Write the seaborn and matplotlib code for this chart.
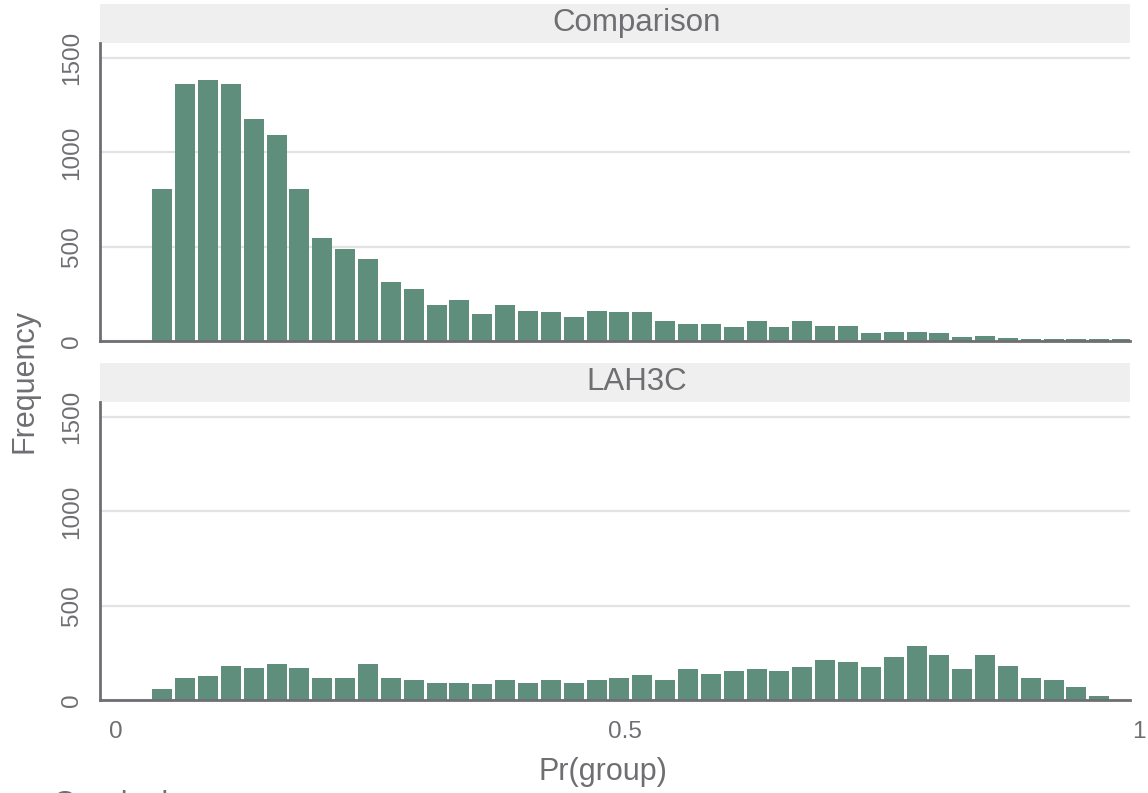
import numpy as np
import pandas as pd
import matplotlib.pyplot as plt
import seaborn as sns
from matplotlib.patches import Rectangle

# histogram counts (43 bins each)
groups = ["Comparison", "LAH3C"]
comparison_freq = [805, 1362, 1383, 1362, 1177, 1092, 806, 546, 488, 435,
                   313, 276, 191, 217, 143, 191, 159, 154, 127, 159,
                   154, 154, 106, 90, 90, 74, 106, 74, 106, 80,
                   80, 42, 48, 48, 42, 21, 26, 16, 11, 11,
                   11, 11, 11]
lah3c_freq = [58, 117, 127, 180, 170, 191, 170, 117, 117, 191,
              117, 106, 90, 90, 85, 106, 90, 106, 90, 106,
              117, 133, 106, 164, 138, 154, 164, 154, 175, 212,
              201, 175, 228, 286, 239, 164, 239, 180, 117, 106,
              69, 21, 0]
bin_start = 0.0346
bin_width = 0.02242
x_ticks = [0, 0.5, 1]
x_tick_labels = ["0", "0.5", "1"]
y_ticks = [0, 500, 1000, 1500]

n_bins = len(comparison_freq)
edges = bin_start + bin_width * np.arange(n_bins + 1)
centers = (edges[:-1] + edges[1:]) / 2

df = pd.DataFrame({
    "group": np.repeat(groups, n_bins),
    "pr": np.tile(centers, len(groups)),
    "freq": comparison_freq + lah3c_freq,
})

sns.set_theme(style="white")
plt.rcParams["font.family"] = ["Liberation Sans", "DejaVu Sans"]

GREEN = "#5f8e7d"
GREY = "#6e6e73"
STRIP = "#efefef"
GRID = "#e3e3e3"
TICK_SIZE = 17.5

fig = plt.figure(figsize=(11.48, 7.93), dpi=100)
positions = [[0.0871, 0.5700, 0.8972, 0.3758],
             [0.0871, 0.1173, 0.8972, 0.3758]]

for i, (grp, pos) in enumerate(zip(groups, positions)):
    ax = fig.add_axes(pos)
    sub = df[df["group"] == grp]
    sns.histplot(data=sub, x="pr", weights="freq", bins=edges.tolist(), shrink=0.875,
                 color=GREEN, alpha=1, linewidth=0, ax=ax)
    ax.set_xlim(-0.0154, 0.9951)
    ax.set_ylim(0, 1580)
    ax.set_xlabel("")
    ax.set_ylabel("")

    ax.set_yticks(y_ticks)
    ax.set_yticklabels([str(v) for v in y_ticks], rotation=90, va="center")
    ax.yaxis.grid(True, color=GRID, linewidth=1.6)
    ax.xaxis.grid(False)
    ax.set_axisbelow(True)

    for side in ["top", "right"]:
        ax.spines[side].set_visible(False)
    for side in ["left", "bottom"]:
        ax.spines[side].set_color(GREY)
        ax.spines[side].set_linewidth(2)
    ax.tick_params(axis="y", length=7.2, width=2, color=GREY,
                   labelcolor=GREY, labelsize=TICK_SIZE, pad=5)

    if i == 0:
        ax.set_xticks([])
    else:
        ax.set_xticks(x_ticks[:-1])
        ax.set_xticklabels(x_tick_labels[:-1])
        ax.tick_params(axis="x", length=0, labelcolor=GREY,
                       labelsize=TICK_SIZE, pad=15)
        # last tick sits just outside the plotted range
        ax.annotate(x_tick_labels[-1], xy=(x_ticks[-1], 0), xycoords=("data", "axes fraction"),
                    xytext=(3, -15), textcoords="offset points",
                    ha="center", va="top", fontsize=TICK_SIZE, color=GREY,
                    annotation_clip=False)

    # facet strip
    strip_h = 39 / 298
    ax.add_patch(Rectangle((0, 1), 1, strip_h, transform=ax.transAxes,
                           facecolor=STRIP, edgecolor="none", clip_on=False))
    ax.text(0.521, 1 + strip_h / 2, grp, transform=ax.transAxes, ha="center",
            va="center", fontsize=22.5, color=GREY)

fig.text(24 / 1148, 1 - 381 / 793, "Frequency", rotation=90, ha="center",
         va="center", fontsize=22, color=GREY)
fig.text(603 / 1148, 1 - 772 / 793, "Pr(group)", ha="center", va="center",
         fontsize=22, color=GREY)
fig.text(53 / 1148, -0.025, "Graphs by group", ha="left", va="baseline",
         fontsize=22, color=GREY)

fig.savefig("out.png", dpi=100)
